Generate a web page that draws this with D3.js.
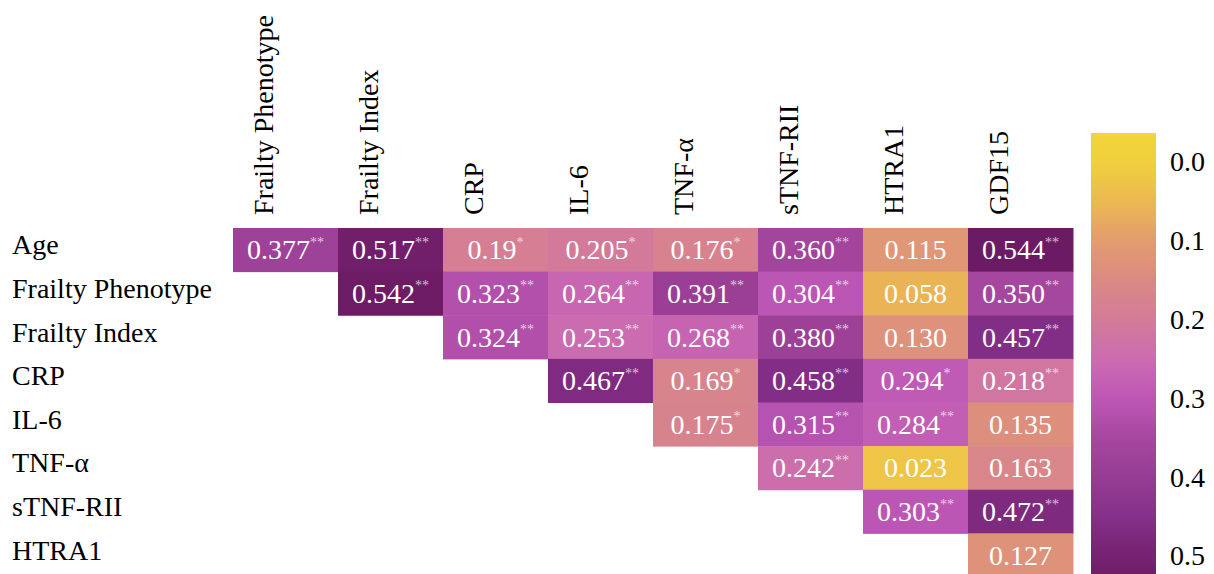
<!DOCTYPE html>
<html>
<head>
<meta charset="utf-8">
<script src="https://cdn.jsdelivr.net/npm/d3@7"></script>
<style>
  body { margin: 0; background: #fff; }
  svg { display: block; }
</style>
</head>
<body>
<div id="chart"></div>
<script>
// row / column names of the (upper triangle) correlation matrix
const rowNames = ['Age', 'Frailty Phenotype', 'Frailty Index', 'CRP', 'IL-6', 'TNF-α', 'sTNF-RII', 'HTRA1'];
const colNames = ['Frailty Phenotype', 'Frailty Index', 'CRP', 'IL-6', 'TNF-α', 'sTNF-RII', 'HTRA1', 'GDF15'];

// coefficients as printed ('' = empty cell)
const coefText = [
    ['0.377', '0.517', '0.19',  '0.205', '0.176', '0.360', '0.115', '0.544'],
    ['',      '0.542', '0.323', '0.264', '0.391', '0.304', '0.058', '0.350'],
    ['',      '',      '0.324', '0.253', '0.268', '0.380', '0.130', '0.457'],
    ['',      '',      '',      '0.467', '0.169', '0.458', '0.294', '0.218'],
    ['',      '',      '',      '',      '0.175', '0.315', '0.284', '0.135'],
    ['',      '',      '',      '',      '',      '0.242', '0.023', '0.163'],
    ['',      '',      '',      '',      '',      '',      '0.303', '0.472'],
    ['',      '',      '',      '',      '',      '',      '',      '0.127']
];

// significance marks
const sigMarks = [
    ['**', '**', '*',  '*',  '*',  '**', '',   '**'],
    ['',   '**', '**', '**', '**', '**', '',   '**'],
    ['',   '',   '**', '**', '**', '**', '',   '**'],
    ['',   '',   '',   '**', '*',  '**', '*',  '**'],
    ['',   '',   '',   '',   '*',  '**', '**', ''],
    ['',   '',   '',   '',   '',   '**', '',   ''],
    ['',   '',   '',   '',   '',   '',   '**', '**'],
    ['',   '',   '',   '',   '',   '',   '',   '']
];

// colour bar ticks
const cbTicks = [0.0, 0.1, 0.2, 0.3, 0.4, 0.5];

const width = 1214;
const height = 574;
const fontSize = 28;
const serif = 'Liberation Serif';

// colour map (yellow -> pink -> purple)
const cmapStops  = [-0.04, 0.0, 0.05, 0.1, 0.15, 0.2, 0.25, 0.3, 0.35, 0.4, 0.45, 0.5, 0.55];
const cmapColors = ['#f2d53a', '#f1cf3d', '#ebb952', '#e39c6e', '#da8a84', '#d47b98', '#cc6cb0',
                    '#bd57b6', '#a6479f', '#973c94', '#85308a', '#762270', '#6a1a62'];

let color = d3.scaleLinear()
    .domain(cmapStops)
    .range(cmapColors)
    .clamp(true);

let svg = d3.select('#chart')
    .append('svg')
        .attr('width', width)
        .attr('height', height)
        .attr('font-family', serif);

//scales for the grid
let x = d3.scaleBand()
    .domain(colNames)
    .range([233, 1073]);

let y = d3.scaleBand()
    .domain(rowNames)
    .range([228, 577]);

//flatten to cells
let cells = [];
rowNames.forEach((r, i) => {
    colNames.forEach((c, j) => {
        if (coefText[i][j] !== '') {
            cells.push({row: r, col: c, text: coefText[i][j], value: +coefText[i][j], sig: sigMarks[i][j]});
        }
    });
});

//rects
svg.append('g')
    .selectAll('rect')
    .data(cells)
    .join('rect')
        .attr('x', d => x(d.col))
        .attr('y', d => y(d.row))
        .attr('width', x.bandwidth() + 0.5)
        .attr('height', y.bandwidth() + 0.5)
        .attr('fill', d => color(d.value));

//annotations
let labels = svg.append('g')
    .selectAll('text')
    .data(cells)
    .join('text')
        .attr('x', d => x(d.col) + x.bandwidth() / 2)
        .attr('y', d => y(d.row) + y.bandwidth() / 2 + 9.5)
        .attr('text-anchor', 'middle')
        .style('font-family', serif)
        .style('font-size', fontSize + 'px')
        .style('fill', '#ffffff');

labels.append('tspan')
    .text(d => d.text);

labels.append('tspan')
    .attr('dy', -12.5)
    .style('font-size', '14px')
    .style('fill', 'rgba(255,255,255,0.72)')
    .text(d => d.sig);

//column labels (rotated, on top)
svg.append('g')
    .selectAll('text')
    .data(colNames)
    .join('text')
        .attr('transform', d => `translate(${x(d) + x.bandwidth() / 2 - 12.5}, 215) rotate(-90)`)
        .attr('text-anchor', 'start')
        .style('font-family', serif)
        .style('font-size', fontSize + 'px')
        .style('fill', '#000')
        .text(d => d);

//row labels
svg.append('g')
    .selectAll('text')
    .data(rowNames)
    .join('text')
        .attr('x', 12)
        .attr('y', d => y(d) + y.bandwidth() / 2 + 4.5)
        .style('font-family', serif)
        .style('font-size', fontSize + 'px')
        .style('fill', '#000')
        .text(d => d);

//--- colour bar -------------------------------------------------------------
let cb = d3.scaleLinear()
    .domain([0, 0.5])
    .range([162, 556]);

const cbTop = 133;
const cbBottom = 590;
const cbLeft = 1091;
const cbWidth = 65;

let grad = svg.append('defs')
    .append('linearGradient')
        .attr('id', 'cbGrad')
        .attr('x1', 0).attr('x2', 0)
        .attr('y1', 0).attr('y2', 1);

grad.selectAll('stop')
    .data(d3.range(0, 1.0001, 0.02))
    .join('stop')
        .attr('offset', t => t)
        .attr('stop-color', t => color(cb.invert(cbTop + t * (cbBottom - cbTop))));

svg.append('rect')
    .attr('x', cbLeft)
    .attr('y', cbTop)
    .attr('width', cbWidth)
    .attr('height', cbBottom - cbTop)
    .attr('fill', 'url(#cbGrad)');

let cbAxis = svg.append('g')
    .attr('transform', `translate(${cbLeft + cbWidth}, 0)`)
    .call(d3.axisRight(cb)
        .tickValues(cbTicks)
        .tickSize(0)
        .tickPadding(14)
        .tickFormat(d3.format('.1f')));

cbAxis.attr('font-family', serif);
cbAxis.select('.domain').remove();
cbAxis.selectAll('text')
    .style('font-family', serif)
    .style('font-size', fontSize + 'px')
    .style('fill', '#000');
</script>
</body>
</html>
